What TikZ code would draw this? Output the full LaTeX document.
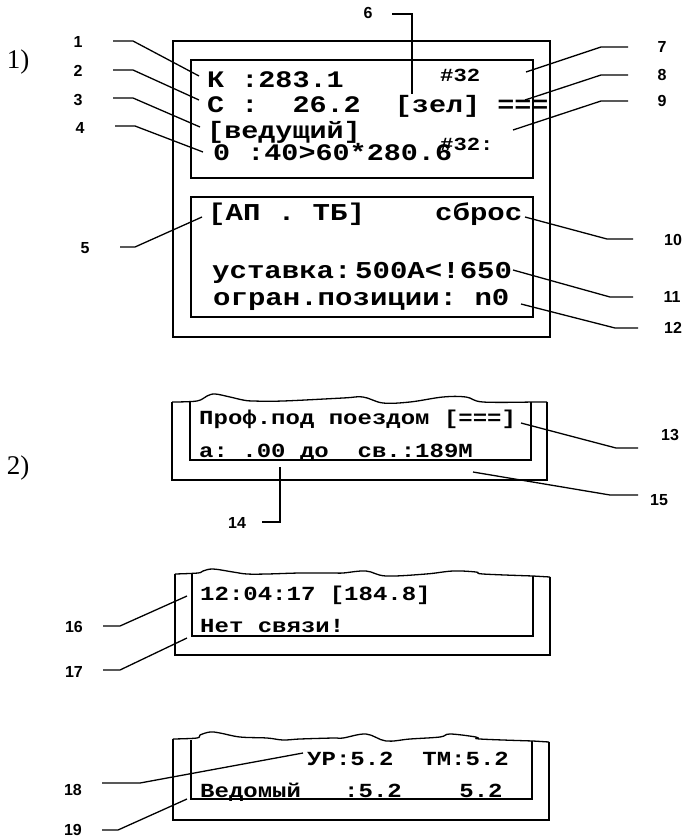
\documentclass[tikz,border=0pt]{standalone}
\usepackage{fontspec}
\newfontfamily\lcdfont[FakeStretch=1.2]{Liberation Mono}
\newfontfamily\labfont{Liberation Sans}
\newfontfamily\numfont{Liberation Serif}
\begin{document}
\begin{tikzpicture}[x=1pt,y=-1pt,
  lcdA/.style={anchor=base west,inner sep=0pt,font=\lcdfont\bfseries\fontsize{23.7}{26}\selectfont},
  lcdB/.style={anchor=base west,inner sep=0pt,font=\lcdfont\bfseries\fontsize{24.2}{26}\selectfont},
  lcdS/.style={anchor=base west,inner sep=0pt,font=\lcdfont\bfseries\fontsize{18.5}{20}\selectfont},
  lcdC/.style={anchor=base west,inner sep=0pt,font=\lcdfont\bfseries\fontsize{20}{22}\selectfont},
  lab/.style={inner sep=0pt,font=\labfont\bfseries\fontsize{16}{18}\selectfont},
  pnum/.style={inner sep=0pt,font=\numfont\fontsize{27}{30}\selectfont},
  box/.style={line width=1.1pt},
  leader/.style={line width=1.3pt},
  wave/.style={line width=1.3pt}]
\useasboundingbox (0,0) rectangle (686,840);

% ---------- panel 1 ----------
\node[pnum] (p1) at (18,62) {1)};
\draw[box] (173,41) rectangle (550,337);
\draw[box] (191,60) rectangle (533,178);
\draw[box] (191,197) rectangle (533,317);

\node[lcdA] (t1) at (207,88) {К~:283.1};
\node[lcdS] (t7) at (440,82) {\#32};
\node[lcdA] (t2) at (207,113) {С~:~~26.2~~[зел]~===};
\node[lcdA] (t3) at (207,139) {[ведущий]};
\node[lcdS] (t9) at (440,150) {\#32:};
\node[lcdA] (t4) at (213,160) {0~:40>60*280.6};
\node[lcdB] (t5) at (208,220) {[АП~.~ТБ]};
\node[lcdB] (t10) at (435,220) {сброс};
\node[lcdB] (t11a) at (212,278) {уставка:};
\node[lcdB] (t11) at (355,278) {500А<!650};
\node[lcdB] (t12) at (213,305) {огран.позиции:~n0};

\node[lab] (l1) at (78,42) {1};
\node[lab] (l2) at (78,71) {2};
\node[lab] (l3) at (78,100) {3};
\node[lab] (l4) at (80,128) {4};
\node[lab] (l5) at (85,248) {5};
\node[lab] (l6) at (368,13) {6};
\node[lab] (l7) at (662,47) {7};
\node[lab] (l8) at (662,75) {8};
\node[lab] (l9) at (662,101) {9};
\node[lab] (l10) at (673,240) {10};
\node[lab] (l11) at (672,297) {11};
\node[lab] (l12) at (673,328) {12};

\coordinate (e1) at (199,76);
\coordinate (e2) at (199,100);
\coordinate (e3) at (200,127);
\coordinate (e4) at (203,152);
\coordinate (e5) at (202,217);
\coordinate (e6) at (412,94);
\coordinate (e7) at (526,72);
\coordinate (e8) at (525,100);
\coordinate (e9) at (513,130);
\coordinate (e10) at (525,217);
\coordinate (e11) at (513,270);
\coordinate (e12) at (521,304);

\draw[leader] (113,41) -- (133,41) -- (e1);
\draw[leader] (113,70) -- (133,70) -- (e2);
\draw[leader] (113,98) -- (133,98) -- (e3);
\draw[leader] (115,126) -- (135,126) -- (e4);
\draw[leader] (120,247) -- (135,247) -- (e5);
\draw[leader] (392,14) -- (412,14) -- (e6);
\draw[leader] (628,47) -- (601,47) -- (e7);
\draw[leader] (628,75) -- (601,75) -- (e8);
\draw[leader] (628,101) -- (601,101) -- (e9);
\draw[leader] (633,239) -- (607,239) -- (e10);
\draw[leader] (633,297) -- (610,297) -- (e11);
\draw[leader] (638,328) -- (615,328) -- (e12);

% ---------- panel 2 ----------
\node[pnum] (p2) at (18,468) {2)};
\draw[box] (172,402) -- (172,480) -- (547,480) -- (547,402);
\draw[box] (190,402) -- (190,460) -- (531,460) -- (531,402);
\draw[wave] plot[smooth,tension=0.6] coordinates {(172,402)(197,401)(207,396)(215,394)(230,397)(243,400)(253,401)(283,401)(343,398)(363,397)(383,403)(410,402)(443,397)(466,397)(483,402)(533,402)} -- (547,402);
\node[lcdC] (t13) at (199,424) {Проф.под~поездом~[===]};
\node[lcdC] (t14) at (199,457) {а:~.00~до~~св.:189М};

\node[lab] (l13) at (670,435) {13};
\node[lab] (l14) at (237,523) {14};
\node[lab] (l15) at (659,500) {15};
\coordinate (e13) at (521,423);
\coordinate (e14) at (280,467);
\coordinate (e15) at (473,472);
\draw[leader] (638,448) -- (616,448) -- (e13);
\draw[leader] (262,522) -- (280,522) -- (e14);
\draw[leader] (638,495) -- (610,495) -- (e15);

% ---------- panel 3 ----------
\draw[box] (175,574) -- (175,655) -- (550,655) -- (550,577);
\draw[box] (192,574) -- (192,636) -- (533,636) -- (533,576);
\draw[wave] plot[smooth,tension=0.6] coordinates {(175,574)(198,573)(203,571)(213,569)(233,572)(247,574)(267,574)(300,573)(333,573)(343,573)(366,571)(386,576)(426,574)(453,571)(476,572)(483,574)(533,576)} -- (550,577);
\node[lcdC] (t16) at (200,600) {12:04:17~[184.8]};
\node[lcdC] (t17) at (200,632) {Нет~связи!};

\node[lab] (l16) at (74,627) {16};
\node[lab] (l17) at (74,672) {17};
\coordinate (e16) at (187,596);
\coordinate (e17) at (187,638);
\draw[leader] (103,626) -- (120,626) -- (e16);
\draw[leader] (103,670) -- (120,670) -- (e17);

% ---------- panel 4 ----------
\draw[box] (173,739) -- (173,820) -- (549,820) -- (549,742);
\draw[box] (191,740) -- (191,799) -- (532,799) -- (532,741);
\draw[wave] plot[smooth,tension=0.6] coordinates {(173,739)(197,738)(200,735)(210,732)(220,733)(240,737)(267,738)(283,740)(300,739)(333,738)(343,738)(366,734)(386,741)(410,739)(440,737)(450,734)(476,737)(480,739)(533,741)} -- (549,742);
\node[lcdC] (t18) at (307,765) {УР:5.2~~ТМ:5.2};
\node[lcdC] (t19) at (200,797) {Ведомый~~~:5.2~~~~5.2};

\node[lab] (l18) at (73,790) {18};
\node[lab] (l19) at (73,830) {19};
\coordinate (e18) at (303,753);
\coordinate (e19) at (187,799);
\draw[leader] (102,783) -- (140,783) -- (e18);
\draw[leader] (102,830) -- (118,830) -- (e19);
\end{tikzpicture}
\end{document}
